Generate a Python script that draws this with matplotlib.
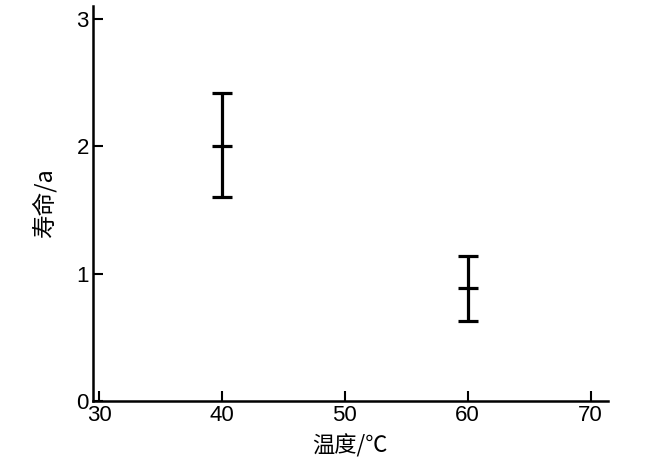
import matplotlib
matplotlib.use("Agg")
import matplotlib.pyplot as plt

temps = [40, 60]
life_mid = [2.0, 0.89]
life_low = [1.6, 0.63]
life_high = [2.42, 1.14]
xticks = [30, 40, 50, 60, 70]
yticks = [0, 1, 2, 3]

fig = plt.figure(figsize=(6.5, 4.63), dpi=100)
ax = fig.add_axes([0.143, 0.134, 0.792, 0.853])

err_lo = [m - l for m, l in zip(life_mid, life_low)]
err_hi = [h - m for m, h in zip(life_mid, life_high)]
ax.errorbar(temps, life_mid, yerr=[err_lo, err_hi], fmt='_', color='black',
            markersize=15, markeredgewidth=2.3, elinewidth=2.3,
            capsize=7.5, capthick=2.3)

ax.set_xlim(29.5, 71.4)
ax.set_ylim(0, 3.1)
ax.set_xticks(xticks)
ax.set_yticks(yticks)
for s in ['top', 'right']:
    ax.spines[s].set_visible(False)
for s in ['left', 'bottom']:
    ax.spines[s].set_linewidth(1.8)
ax.tick_params(direction='in', length=7, width=1.5, labelsize=16, pad=3)
for lab in ax.get_xticklabels() + ax.get_yticklabels():
    lab.set_family(['Liberation Sans', 'DejaVu Sans'])

ax.set_xlabel('温度/℃', fontsize=16, family=['Noto Sans CJK SC', 'DejaVu Sans'],
              fontweight='medium', labelpad=6)
ax.set_ylabel('寿命/a', fontsize=17, family=['Noto Sans CJK SC', 'DejaVu Sans'],
              fontweight='medium', labelpad=14)

fig.savefig('out.png', dpi=100)
